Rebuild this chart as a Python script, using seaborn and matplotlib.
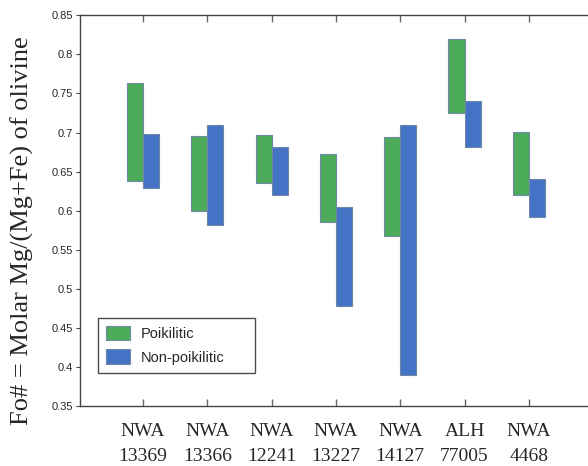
import matplotlib
matplotlib.use("Agg")
import matplotlib.pyplot as plt
import seaborn as sns
import numpy as np
import pandas as pd
from matplotlib.patches import Patch

categories = ["NWA\n13369", "NWA\n13366", "NWA\n12241", "NWA\n13227", "NWA\n14127", "ALH\n77005", "NWA\n4468"]
poik_low = [0.638, 0.600, 0.635, 0.585, 0.568, 0.725, 0.620]
poik_high = [0.763, 0.695, 0.697, 0.673, 0.694, 0.820, 0.701]
nonpoik_low = [0.629, 0.582, 0.620, 0.478, 0.390, 0.682, 0.592]
nonpoik_high = [0.698, 0.710, 0.682, 0.605, 0.710, 0.741, 0.640]
yticks = [0.35, 0.4, 0.45, 0.5, 0.55, 0.6, 0.65, 0.7, 0.75, 0.8, 0.85]
ytick_labels = ["0.35", "0.4", "0.45", "0.5", "0.55", "0.6", "0.65", "0.7", "0.75", "0.8", "0.85"]
series = ["Poikilitic", "Non-poikilitic"]

sns.set_theme(style="white")
plt.rcParams["font.family"] = ["Liberation Sans", "DejaVu Sans"]

green = "#4dac59"
blue = "#4472c4"
edge = "#6f88a8"

fig = plt.figure(figsize=(5.88, 4.66), dpi=100)
ax = fig.add_axes([0.136, 0.129, 0.864, 0.838])

df = pd.DataFrame({
    "cat": categories,
    "p_lo": poik_low, "p_hi": poik_high,
    "n_lo": nonpoik_low, "n_hi": nonpoik_high,
})
x = np.arange(len(categories))
w = 0.25
ax.bar(x, df["p_hi"] - df["p_lo"], bottom=df["p_lo"], width=-w, align="edge",
       color=green, edgecolor=edge, linewidth=0.8, label=series[0])
ax.bar(x, df["n_hi"] - df["n_lo"], bottom=df["n_lo"], width=w, align="edge",
       color=blue, edgecolor=edge, linewidth=0.8, label=series[1])

ax.set_xlim(-0.98, 6.92)
ax.set_ylim(0.35, 0.85)
ax.set_yticks(yticks)
ax.set_yticklabels(ytick_labels, fontsize=8)
ax.set_xticks(x)
ax.set_xticklabels(categories, fontsize=14, family=["Liberation Serif"], linespacing=1.65)
ax.tick_params(axis="x", direction="in", top=True, bottom=True, length=5, width=1,
               color="#666666", pad=12)
ax.tick_params(axis="y", direction="out", left=True, length=3, width=0.8,
               color="#444444", pad=2)

for s in ["left", "bottom", "top"]:
    ax.spines[s].set_visible(True)
    ax.spines[s].set_color("#444444")
    ax.spines[s].set_linewidth(1.0)
ax.spines["right"].set_visible(False)

ax.set_ylabel("Fo# = Molar Mg/(Mg+Fe) of olivine", fontsize=19,
              family=["Liberation Serif"])
ax.yaxis.set_label_coords(-0.09, 0.448)

handles = [Patch(facecolor=green, edgecolor=edge, linewidth=0.8),
           Patch(facecolor=blue, edgecolor=edge, linewidth=0.8)]
leg = ax.legend(handles, series, loc="lower left",
                bbox_to_anchor=(0.035, 0.085, 0.309, 0.163), mode="expand",
                fontsize=10.5, frameon=True, fancybox=False, edgecolor="#222222",
                handlelength=1.65, handleheight=1.15, borderpad=0.55, labelspacing=0.6,
                handletextpad=0.75, borderaxespad=0)
leg.get_frame().set_linewidth(1.0)

fig.savefig("out.png", dpi=100)
